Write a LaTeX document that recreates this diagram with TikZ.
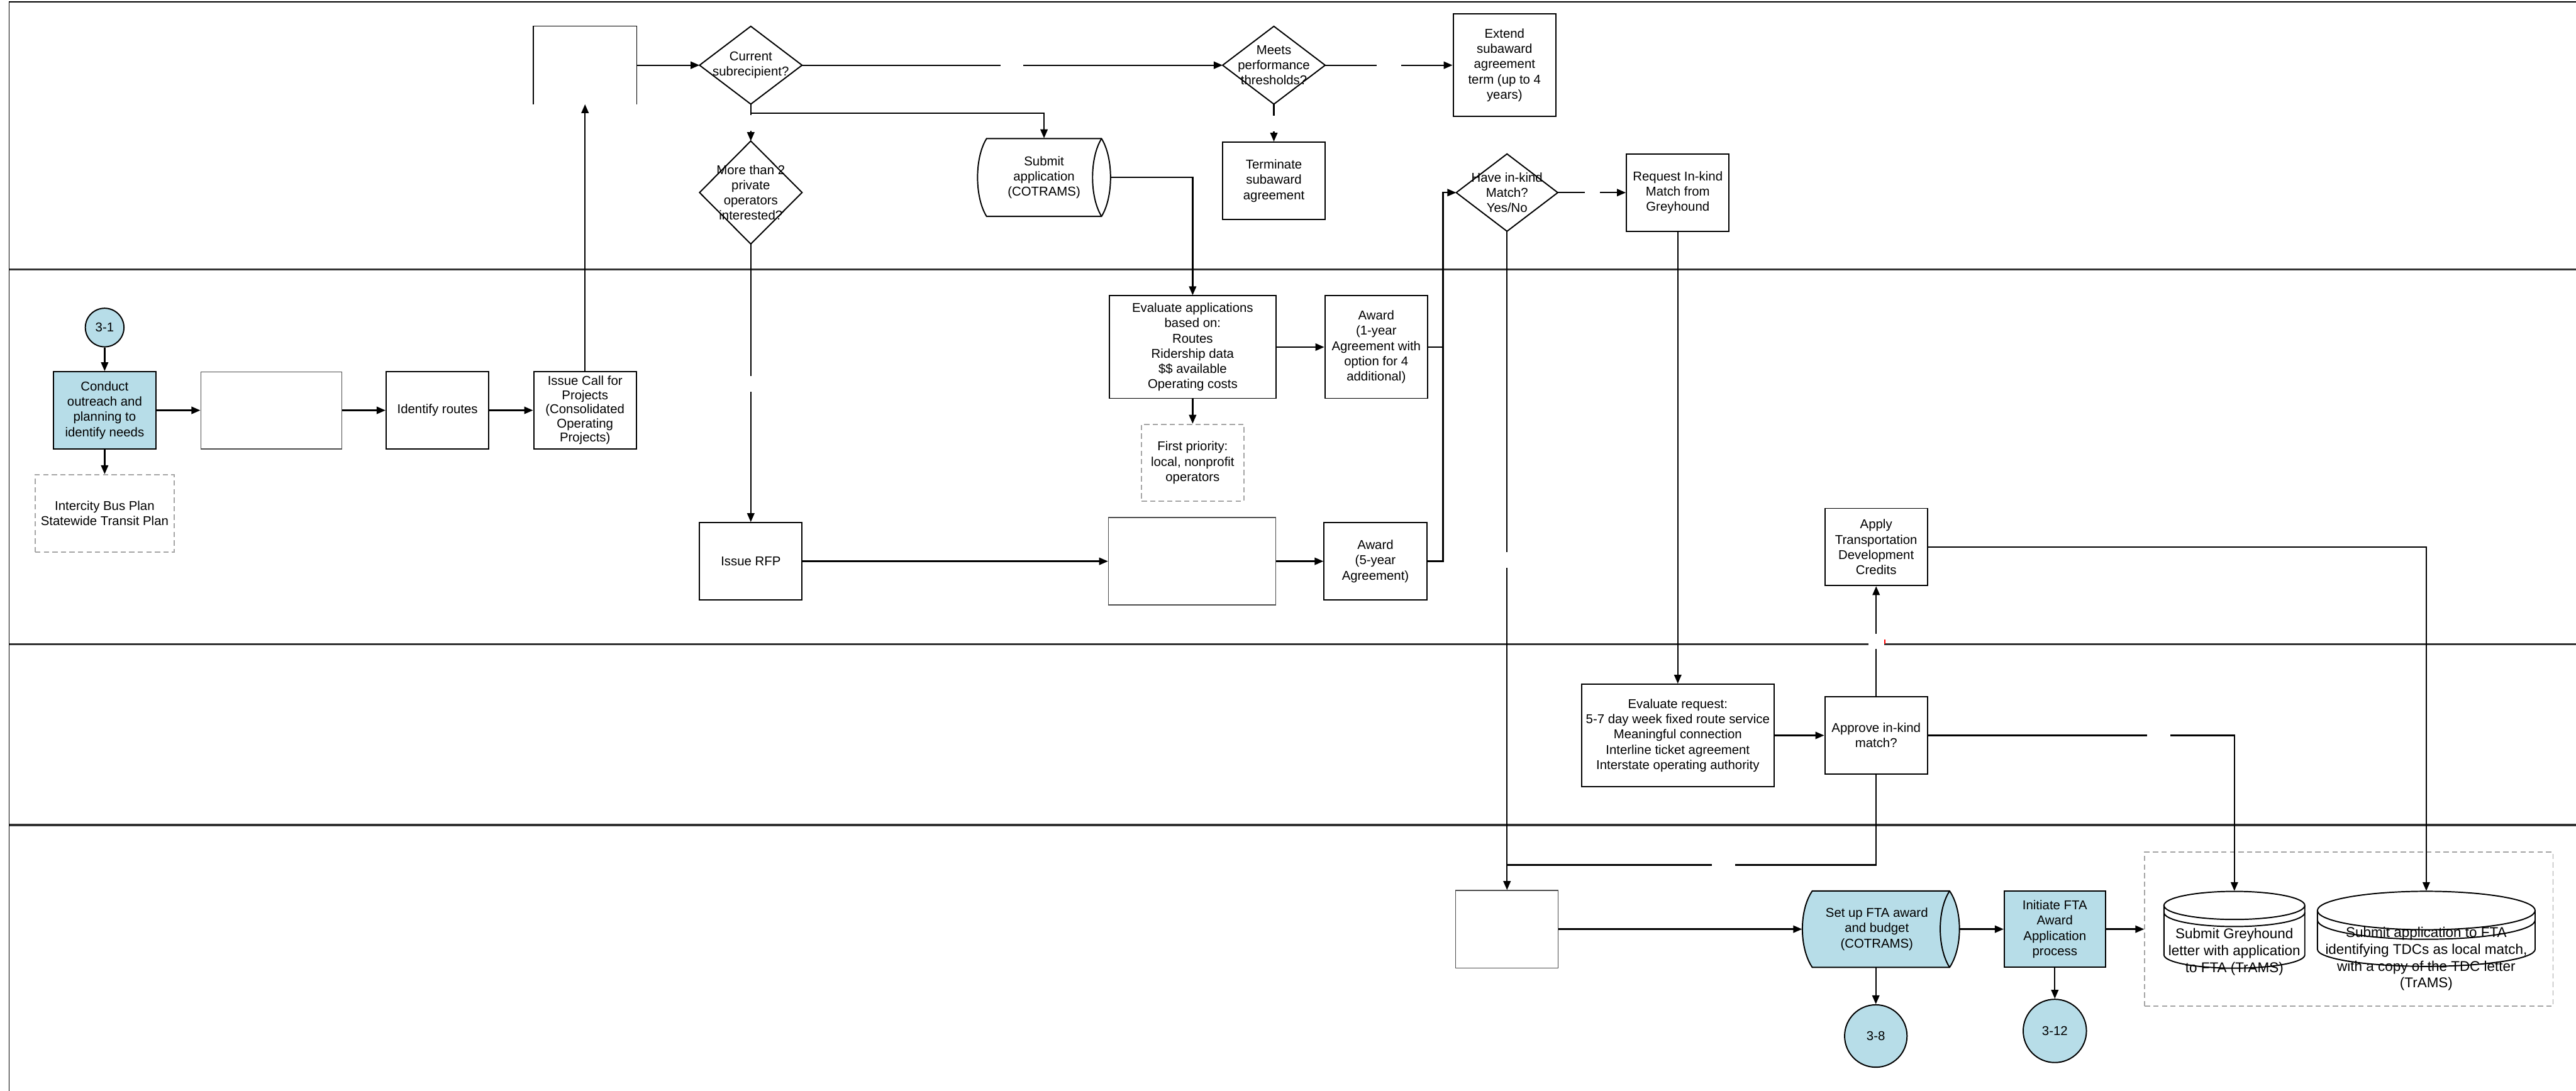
\documentclass[tikz,border=0pt]{standalone}
\usepackage{fontspec}
\setmainfont{Liberation Sans}
\usetikzlibrary{arrows.meta,calc}
\definecolor{procblue}{RGB}{183,221,232}
\definecolor{dashgray}{RGB}{165,165,165}

\begin{document}
\begin{tikzpicture}[x=1pt,y=1pt,
  every node/.style={font=\fontsize{7.8}{9.3}\selectfont, align=center, inner sep=1pt},
  box/.style={draw, line width=.75pt, minimum width=62.5pt, minimum height=47pt},
  blank/.style={draw=black!70, line width=.5pt},
  note/.style={draw=dashgray, dash pattern=on 3.2pt off 2pt, line width=.7pt, minimum width=62.2pt, minimum height=47pt},
  frame/.style={minimum width=62pt, minimum height=47pt},
  conn/.style={line width=.9pt, -{Triangle[length=5.4pt,width=4.4pt]}},
  link/.style={line width=.9pt},
  outline/.style={line width=.75pt},
  terminal/.style={circle, draw, line width=.75pt, fill=procblue, inner sep=0pt},
  cyltext/.style={font=\fontsize{8.6}{10.3}\selectfont},
  gapmark/.style={fill=white, inner sep=0pt, minimum width=14pt, minimum height=4pt},
  vgapmark/.style={fill=white, inner sep=0pt, minimum width=4pt, minimum height=9.6pt},
  lane/.style={line width=1.3pt, black!80}
]
\useasboundingbox (0,0) rectangle (1568,-664.1);

% ---------- frame and swimlanes ----------
\draw[line width=.6pt] (5.6,-664.1) -- (5.6,-1.1) -- (1568,-1.1);
\draw[lane] (5.6,-164) -- (1568,-164);
\draw[lane] (5.6,-392.1) -- (1568,-392.1);
\draw[lane] (5.6,-502.2) -- (1568,-502.2);

% ---------- lane 1 ----------
\node[minimum width=62.6pt, minimum height=47.1pt, inner sep=0pt] (topblank) at (356.1,-39.7) {};
\draw[blank, draw=black] (topblank.south west) -- (topblank.north west) -- (topblank.north east) -- (topblank.south east);

\node[frame] (cur) at (457,-39.7) {Current\\subrecipient?};
\draw[outline] (cur.north) -- (cur.east) -- (cur.south) -- (cur.west) -- cycle;

\node[frame] (meets) at (775.4,-39.7) {Meets\\performance\\thresholds?};
\draw[outline] (meets.north) -- (meets.east) -- (meets.south) -- (meets.west) -- cycle;

\node[box, minimum height=62.5pt] (extend) at (915.8,-39.7) {Extend\\subaward\\agreement\\term (up to 4\\years)};

\node[frame, minimum height=62.3pt] (more) at (457,-117.2) {More than 2\\private\\operators\\interested?};
\draw[outline] (more.north) -- (more.east) -- (more.south) -- (more.west) -- cycle;

% application record with a curved end cap
\draw[outline, fill=white] (600.5,-84.4) -- (670.5,-84.4)
  .. controls (677.8,-96) and (677.8,-120) .. (670.5,-131.7) -- (600.5,-131.7)
  .. controls (593.2,-120) and (593.2,-96) .. (600.5,-84.4) -- cycle;
\draw[outline] (670.5,-84.4) .. controls (663.2,-96) and (663.2,-120) .. (670.5,-131.7);
\node[minimum width=81pt, minimum height=47.3pt, inner sep=0pt] (submit) at (635.5,-108) {Submit\\application\\(COTRAMS)};

\node[box] (terminate) at (775.4,-110.05) {Terminate\\subaward\\agreement};

\node[frame, minimum width=61.4pt, minimum height=46.7pt] (havek) at (917.3,-117.25) {Have in-kind\\Match?\\Yes/No};
\draw[outline] (havek.north) -- (havek.east) -- (havek.south) -- (havek.west) -- cycle;

\node[box] (request) at (1021.25,-117.25) {Request In-kind\\Match from\\Greyhound};

% ---------- lane 2 ----------
\node[terminal, minimum size=23.5pt] (c31) at (63.7,-199.4) {3-1};
\node[box, fill=procblue] (conduct) at (63.7,-249.8) {Conduct\\outreach and\\planning to\\identify needs};
\node[box, blank, minimum width=85.8pt] (blank2) at (165.1,-249.8) {};
\node[box] (identify) at (266.3,-249.8) {Identify routes};
\node[box, font=\fontsize{7.8}{8.6}\selectfont] (issuecall) at (356.1,-249.8) {Issue Call for\\Projects\\(Consolidated\\Operating\\Projects)};
\node[note, minimum width=84.5pt, minimum height=47pt] (plans) at (63.7,-312.5) {Intercity Bus Plan\\Statewide Transit Plan};

\node[box, minimum width=101.3pt, minimum height=62.4pt] (evalapps) at (725.95,-211.3) {Evaluate applications\\based on:\\Routes\\Ridership data\\\$\$ available\\Operating costs};
\node[box, minimum height=62.4pt] (award1) at (837.7,-211.3) {Award\\(1-year\\Agreement with\\option for 4\\additional)};
\node[note, minimum height=46.8pt] (firstprio) at (725.95,-281.7) {First priority:\\local, nonprofit\\operators};

\node[box] (issuerfp) at (457,-341.7) {Issue RFP};
\node[box, blank, minimum width=101.7pt, minimum height=53.2pt] (blank3) at (725.55,-341.7) {};
\node[box] (award5) at (837.2,-341.7) {Award\\(5-year\\Agreement)};
\node[box] (apply) at (1142,-333) {Apply\\Transportation\\Development\\Credits};

% ---------- lane 3 ----------
\node[box, minimum width=117pt, minimum height=62.3pt] (evalreq) at (1021.25,-447.7) {Evaluate request:\\5-7 day week fixed route service\\Meaningful connection\\Interline ticket agreement\\Interstate operating authority};
\node[box] (approve) at (1142,-447.7) {Approve in-kind\\match?};

% ---------- lane 4 ----------
\node[box, blank, minimum width=62.4pt, minimum height=47.2pt] (blank4) at (917.3,-565.65) {};

% award set-up record with a curved end cap
\path[fill=procblue] (1103.1,-542.4) -- (1186.7,-542.4)
  .. controls (1194.7,-554) and (1194.7,-577) .. (1186.7,-588.9) -- (1103.1,-588.9)
  .. controls (1095.1,-577) and (1095.1,-554) .. (1103.1,-542.4) -- cycle;
\draw[outline] (1103.1,-542.4) -- (1186.7,-542.4)
  .. controls (1194.7,-554) and (1194.7,-577) .. (1186.7,-588.9) -- (1103.1,-588.9)
  .. controls (1095.1,-577) and (1095.1,-554) .. (1103.1,-542.4) -- cycle;
\draw[outline] (1186.7,-542.4) .. controls (1179.1,-554) and (1179.1,-577) .. (1186.7,-588.9);
\node[minimum width=95.6pt, minimum height=46.5pt, inner sep=0pt] (setup) at (1144.9,-565.65) {};
\node (setuptext) at (1142.4,-565.65) {Set up FTA award\\and budget\\(COTRAMS)};

\node[box, fill=procblue, minimum width=61.5pt, minimum height=46.5pt] (initiate) at (1250.75,-565.65) {Initiate FTA\\Award\\Application\\process};

\node[note, minimum width=248.5pt, minimum height=93.6pt] (grp) at (1429.75,-565.65) {};

% stored-data drums
\draw[outline, fill=white] (1317.2,-551.2) -- (1317.2,-581.3)
  arc[start angle=180, end angle=360, x radius=42.85pt, y radius=8.1pt] -- (1402.9,-551.2)
  arc[start angle=0, end angle=180, x radius=42.85pt, y radius=8.55pt] -- cycle;
\draw[outline] (1317.2,-551.2) arc[start angle=180, end angle=360, x radius=42.85pt, y radius=8.55pt];
\draw[outline] (1317.2,-555.5) arc[start angle=180, end angle=360, x radius=42.85pt, y radius=8.55pt];
\node[minimum width=85.7pt, minimum height=46.8pt, inner sep=0pt] (cyl1) at (1360.05,-566) {};
\node[cyltext] (cyl1text) at (1360.05,-579.4) {Submit Greyhound\\letter with application\\to FTA (TrAMS)};

\draw[outline, fill=white] (1410.6,-554.3) -- (1410.6,-577.9)
  arc[start angle=180, end angle=360, x radius=66.25pt, y radius=10.4pt] -- (1543.1,-554.3)
  arc[start angle=0, end angle=180, x radius=66.25pt, y radius=11.7pt] -- cycle;
\draw[outline] (1410.6,-554.3) arc[start angle=180, end angle=360, x radius=66.25pt, y radius=11.7pt];
\draw[outline] (1410.6,-560.1) arc[start angle=180, end angle=360, x radius=66.25pt, y radius=11.7pt];
\node[minimum width=132.5pt, minimum height=45.7pt, inner sep=0pt] (cyl2) at (1476.85,-565.45) {};
\node[cyltext] (cyl2text) at (1476.85,-583.7) {Submit application to FTA\\identifying TDCs as local match,\\with a copy of the TDC letter\\(TrAMS)};

\node[terminal, minimum size=38pt] (c38) at (1141.8,-630.7) {3-8};
\node[terminal, minimum size=38.5pt] (c312) at (1250.75,-627.6) {3-12};

% ---------- connectors ----------
\draw[conn] (c31) -- (conduct);
\draw[conn] (conduct) -- (blank2);
\draw[conn] (blank2) -- (identify);
\draw[conn] (identify) -- (issuecall);
\draw[conn] (conduct) -- (plans);
\draw[conn] (issuecall) -- (topblank.south);
\draw[conn] (topblank.east) -- (cur.west);
\draw[conn] (cur.east) -- (meets.west);
\draw[conn] (meets.east) -- (extend.west);
\draw[conn] (meets.south) -- (terminate.north);
\coordinate (split) at (457,-68.8);
\draw[conn] (cur.south) -- (split) -| (submit.north);
\draw[conn] (cur.south) -- (more.north);
\draw[conn] (more.south) -- (issuerfp.north);
\draw[conn] (submit.east) -| (evalapps.north);
\draw[conn] (evalapps) -- (award1);
\draw[conn] (evalapps) -- (firstprio);
\draw[conn] (issuerfp) -- (blank3);
\draw[conn] (blank3) -- (award5);
\coordinate (join) at (878.3,-117.25);
\draw[link] (award1.east) -- (award1.east -| join);
\draw[conn] (award5.east) -| (join) -- (havek.west);
\draw[conn] (havek.east) -- (request.west);
\draw[conn] (havek.south) -- (blank4.north);
\draw[conn] (request.south) -- (evalreq.north);
\draw[conn] (evalreq) -- (approve);
\draw[conn] (approve) -- (apply);
\coordinate (merge) at (917.3,-526.5);
\draw[link] (approve.south) |- (merge);
\draw[conn] (approve.east) -| (cyl1.north);
\draw[conn] (apply.east) -| (cyl2.north);
\draw[conn] (blank4) -- (setup);
\draw[conn] (setup.east) -- (initiate.west);
\draw[conn] (initiate) -- (grp);
\draw[conn] (c38 |- setup.south) -- (c38.north);
\draw[conn] (initiate) -- (c312);

% blank label spots on the connectors
\node[gapmark] (gap1) at (616,-39.7) {};
\node[gapmark, minimum width=15pt] (gap2) at (845.5,-39.7) {};
\node[vgapmark] (gap3) at (775.4,-75.2) {};
\node[vgapmark] (gap4) at (457,-74.8) {};
\node[vgapmark] (gap5) at (457,-233.8) {};
\node[gapmark, minimum width=9.4pt] (gap6) at (969.3,-117.25) {};
\node[vgapmark] (gap7) at (917.3,-341) {};
\node[vgapmark, minimum width=9.7pt, minimum height=9.2pt] (gap8) at (1142,-390.4) {};
\draw[red, line width=.6pt] (1147.2,-389.4) -- (1147.2,-392.1);
\node[gapmark] (gap9) at (1314,-447.7) {};
\node[gapmark] (gap10) at (1049,-526.5) {};

\end{tikzpicture}
\end{document}
